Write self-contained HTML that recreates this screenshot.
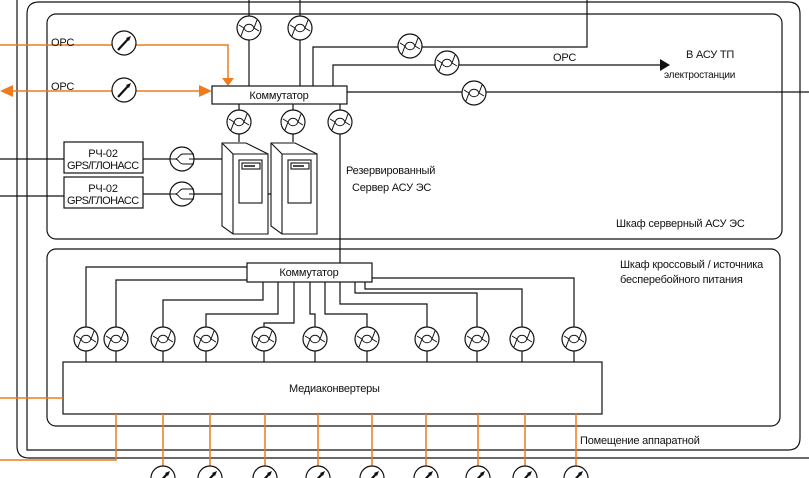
<!DOCTYPE html>
<html><head><meta charset="utf-8"><style>
html,body{margin:0;padding:0;background:#fff;}
svg{display:block;font-family:"Liberation Sans Narrow","Liberation Sans",sans-serif;}
text{font-size:11px;fill:#111;}
</style></head><body>
<svg width="809" height="478" viewBox="0 0 809 478" xmlns="http://www.w3.org/2000/svg">
<defs>
<g id="tw"><circle r="12" fill="#fff" stroke="#111" stroke-width="1.2"/><path d="M-5,0 C-3,-5 3,-5 5,0 C3,5 -3,5 -5,0 M5,0 L8,-8 M5,0 L10,3 M-5,0 L-10,-3 M-5,0 L-8,8" fill="none" stroke="#111" stroke-width="1"/></g>
<g id="sw"><circle r="12" fill="#fff" stroke="#111" stroke-width="1.2"/><path d="M-12,0 L-7,0 C-3,0 -3,-5 1,-5 L12,-5 M-7,0 C-3,0 -3,5 1,5 L12,5 M12,0 L7,0" fill="none" stroke="#111" stroke-width="1"/></g>
<g id="op"><circle r="12" fill="#fff" stroke="#111" stroke-width="1.2"/><path d="M-6,7 L5,-5" stroke="#111" stroke-width="2.2"/><path d="M7,-7 L2,-5 L5,-2 Z" fill="#111"/></g>
<g id="srv" fill="#fff" stroke="#111" stroke-width="1.1"><path d="M0,1 L24,1 L46,12 L46,92 L11,92 L0,84 Z"/><path d="M0,1 L11,12 L46,12 M11,12 L11,92"/><rect x="17" y="18" width="23" height="43"/><rect x="20" y="21" width="18" height="6"/><path d="M22,24 L33,24" stroke-width="1.5"/></g>
</defs>
<g fill="none" stroke="#111" stroke-width="1.2">
<path d="M17,0 L17,446 Q17,458 29,458 L809,458"/>
<path d="M27,450 L27,14 Q27,2 39,2 L788,2 Q800,2 800,14 L800,438 Q800,450 788,450 Z"/>
<rect x="47" y="14" width="735" height="225" rx="9"/>
<rect x="47" y="249" width="733" height="177" rx="9"/>
<path d="M249,0 V86 M300,0 V86 M313,86 V47 H587 V0 M333,86 V65 H660 M347,92 H809"/>
<path d="M239,104 V142 M293,104 V142 M340,104 V263"/>
<path d="M0,159 H64 M0,196 H64 M143,159 H222 M143,194 H271"/>
<path d="M247,267 H86 V362 M247,280 H116 V362 M263,282 V300 H163 V362 M278,282 V314 H206 V362 M294,282 V323 H264 V362 M310,282 V314 H315 V362 M325,282 V314 H367 V362 M340,282 V304 H427 V362 M355,282 V293 H477 V362 M365,282 V289 H522 V362 M372,278 H574 V362"/>
</g>
<g fill="#fff" stroke="#111" stroke-width="1.2">
<rect x="212" y="86" width="135" height="18"/>
<rect x="247" y="263" width="125" height="19"/>
<rect x="63" y="362" width="539" height="52"/>
<rect x="64" y="142" width="79" height="31"/>
<rect x="64" y="177" width="79" height="31"/>
</g>
<path d="M660,59 L670,65 L660,71 Z" fill="#111"/>
<g fill="none" stroke="#ee7b1f" stroke-width="1.5">
<path d="M0,45 H228 V80"/>
<path d="M10,91 H200"/>
<path d="M0,398 H63"/>
<path d="M116,414 V460 H0"/>
<path d="M163,414 V470 M210,414 V470 M265,414 V470 M318,414 V470 M372,414 V470 M426,414 V470 M478,414 V470 M525,414 V470 M576,414 V470"/>
</g>
<g fill="#ee7b1f"><path d="M222,78 L234,78 L228,86 Z"/><path d="M0,91 L13,85 L13,97 Z"/><path d="M212,91 L199,85 L199,97 Z"/></g>
<use href="#op" x="124" y="43"/><use href="#op" x="124" y="90"/>
<use href="#tw" x="249" y="28"/><use href="#tw" x="300" y="28"/><use href="#tw" x="410" y="46"/><use href="#tw" x="447" y="63"/><use href="#tw" x="474" y="93"/>
<use href="#tw" x="239" y="122"/><use href="#tw" x="293" y="122"/><use href="#tw" x="340" y="122"/>
<use href="#sw" x="182" y="159"/><use href="#sw" x="182" y="194"/>
<use href="#srv" x="222" y="142"/><use href="#srv" x="271" y="142"/>
<use href="#tw" x="86" y="339"/><use href="#tw" x="116" y="339"/><use href="#tw" x="163" y="339"/><use href="#tw" x="206" y="339"/><use href="#tw" x="264" y="339"/><use href="#tw" x="315" y="339"/><use href="#tw" x="367" y="339"/><use href="#tw" x="427" y="339"/><use href="#tw" x="477" y="339"/><use href="#tw" x="522" y="339"/><use href="#tw" x="574" y="339"/>
<use href="#op" x="163" y="478"/><use href="#op" x="210" y="478"/><use href="#op" x="265" y="478"/><use href="#op" x="318" y="478"/><use href="#op" x="372" y="478"/><use href="#op" x="426" y="478"/><use href="#op" x="478" y="478"/><use href="#op" x="525" y="478"/><use href="#op" x="576" y="478"/>
<g style="letter-spacing:-0.2px">
<text x="51" y="46">ОРС</text><text x="51" y="90">ОРС</text>
<text x="279" y="99" text-anchor="middle">Коммутатор</text>
<text x="309" y="276" text-anchor="middle">Коммутатор</text>
<text x="103" y="157" text-anchor="middle">РЧ-02</text><text x="103" y="169" text-anchor="middle" textLength="72">GPS/ГЛОНАСС</text>
<text x="103" y="192" text-anchor="middle">РЧ-02</text><text x="103" y="204" text-anchor="middle" textLength="72">GPS/ГЛОНАСС</text>
<text x="346" y="174">Резервированный</text><text x="352" y="191">Сервер АСУ ЭС</text>
<text x="553" y="61">ОРС</text>
<text x="686" y="58">В АСУ ТП</text><text x="664" y="78" style="font-size:10px">электростанции</text>
<text x="616" y="227">Шкаф серверный АСУ ЭС</text>
<text x="620" y="268">Шкаф кроссовый / источника</text><text x="620" y="283">бесперебойного питания</text>
<text x="289" y="392">Медиаконвертеры</text>
<text x="580" y="444">Помещение аппаратной</text>
</g>
</svg>
</body></html>
